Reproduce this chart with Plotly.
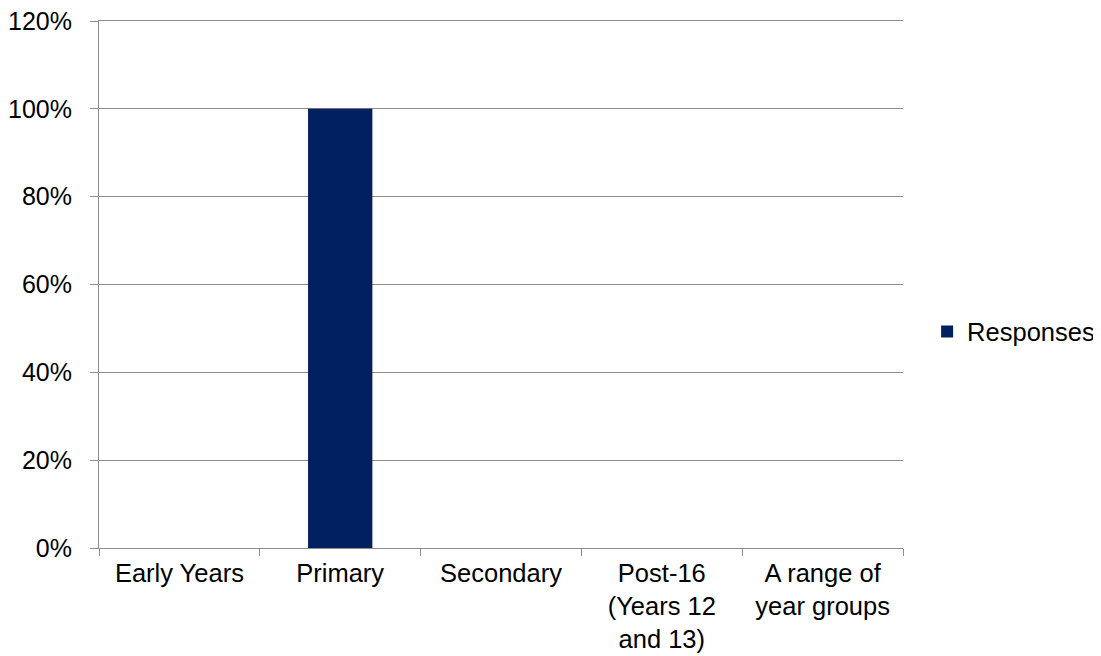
import plotly.graph_objects as go

categories = ["Early Years", "Primary", "Secondary", "Post-16<br>(Years 12<br>and 13)", "A range of<br>year groups"]
responses = [0.0, 1.0, 0.0, 0.0, 0.0]
y_ticks = [0, 0.2, 0.4, 0.6, 0.8, 1.0, 1.2]
y_labels = ["0%", "20%", "40%", "60%", "80%", "100%", "120%"]

fig = go.Figure()
fig.add_trace(go.Bar(
    x=categories, y=responses, name="Responses",
    marker=dict(color="#002060", line=dict(width=0)),
))

# page body has an 8px default margin, so margins compensate for it
fig.update_layout(
    width=1101, height=656,
    margin=dict(l=91, r=206, t=13, b=116, pad=0, autoexpand=False),
    plot_bgcolor="white", paper_bgcolor="white",
    font=dict(family="Liberation Sans, Arial, sans-serif", size=26, color="black"),
    bargap=0.6,
    showlegend=True,
    legend=dict(x=1.03, y=0.41, xanchor="left", yanchor="middle",
                font=dict(size=25.5), itemwidth=30, bgcolor="rgba(0,0,0,0)"),
)
fig.update_xaxes(
    type="category", tickson="boundaries", ticks="outside", ticklen=7,
    tickcolor="#8c8c8c", showgrid=False, showline=True, mirror=True,
    linecolor="#8c8c8c", linewidth=1, range=[-0.5, 4.5],
    tickfont=dict(size=25.5), automargin=False, ticklabelstandoff=2,
    ticklabeloverflow="allow",
)
fig.update_yaxes(
    range=[0, 1.2], tickvals=y_ticks, ticktext=y_labels, ticks="outside", ticklen=8,
    tickcolor="#8c8c8c", showgrid=True, gridcolor="#8c8c8c", gridwidth=1,
    showline=True, linecolor="#8c8c8c", linewidth=1, zeroline=False,
    tickfont=dict(size=25), ticklabelstandoff=13, automargin=False,
    ticklabeloverflow="allow",
)

fig.write_html("out.html")
